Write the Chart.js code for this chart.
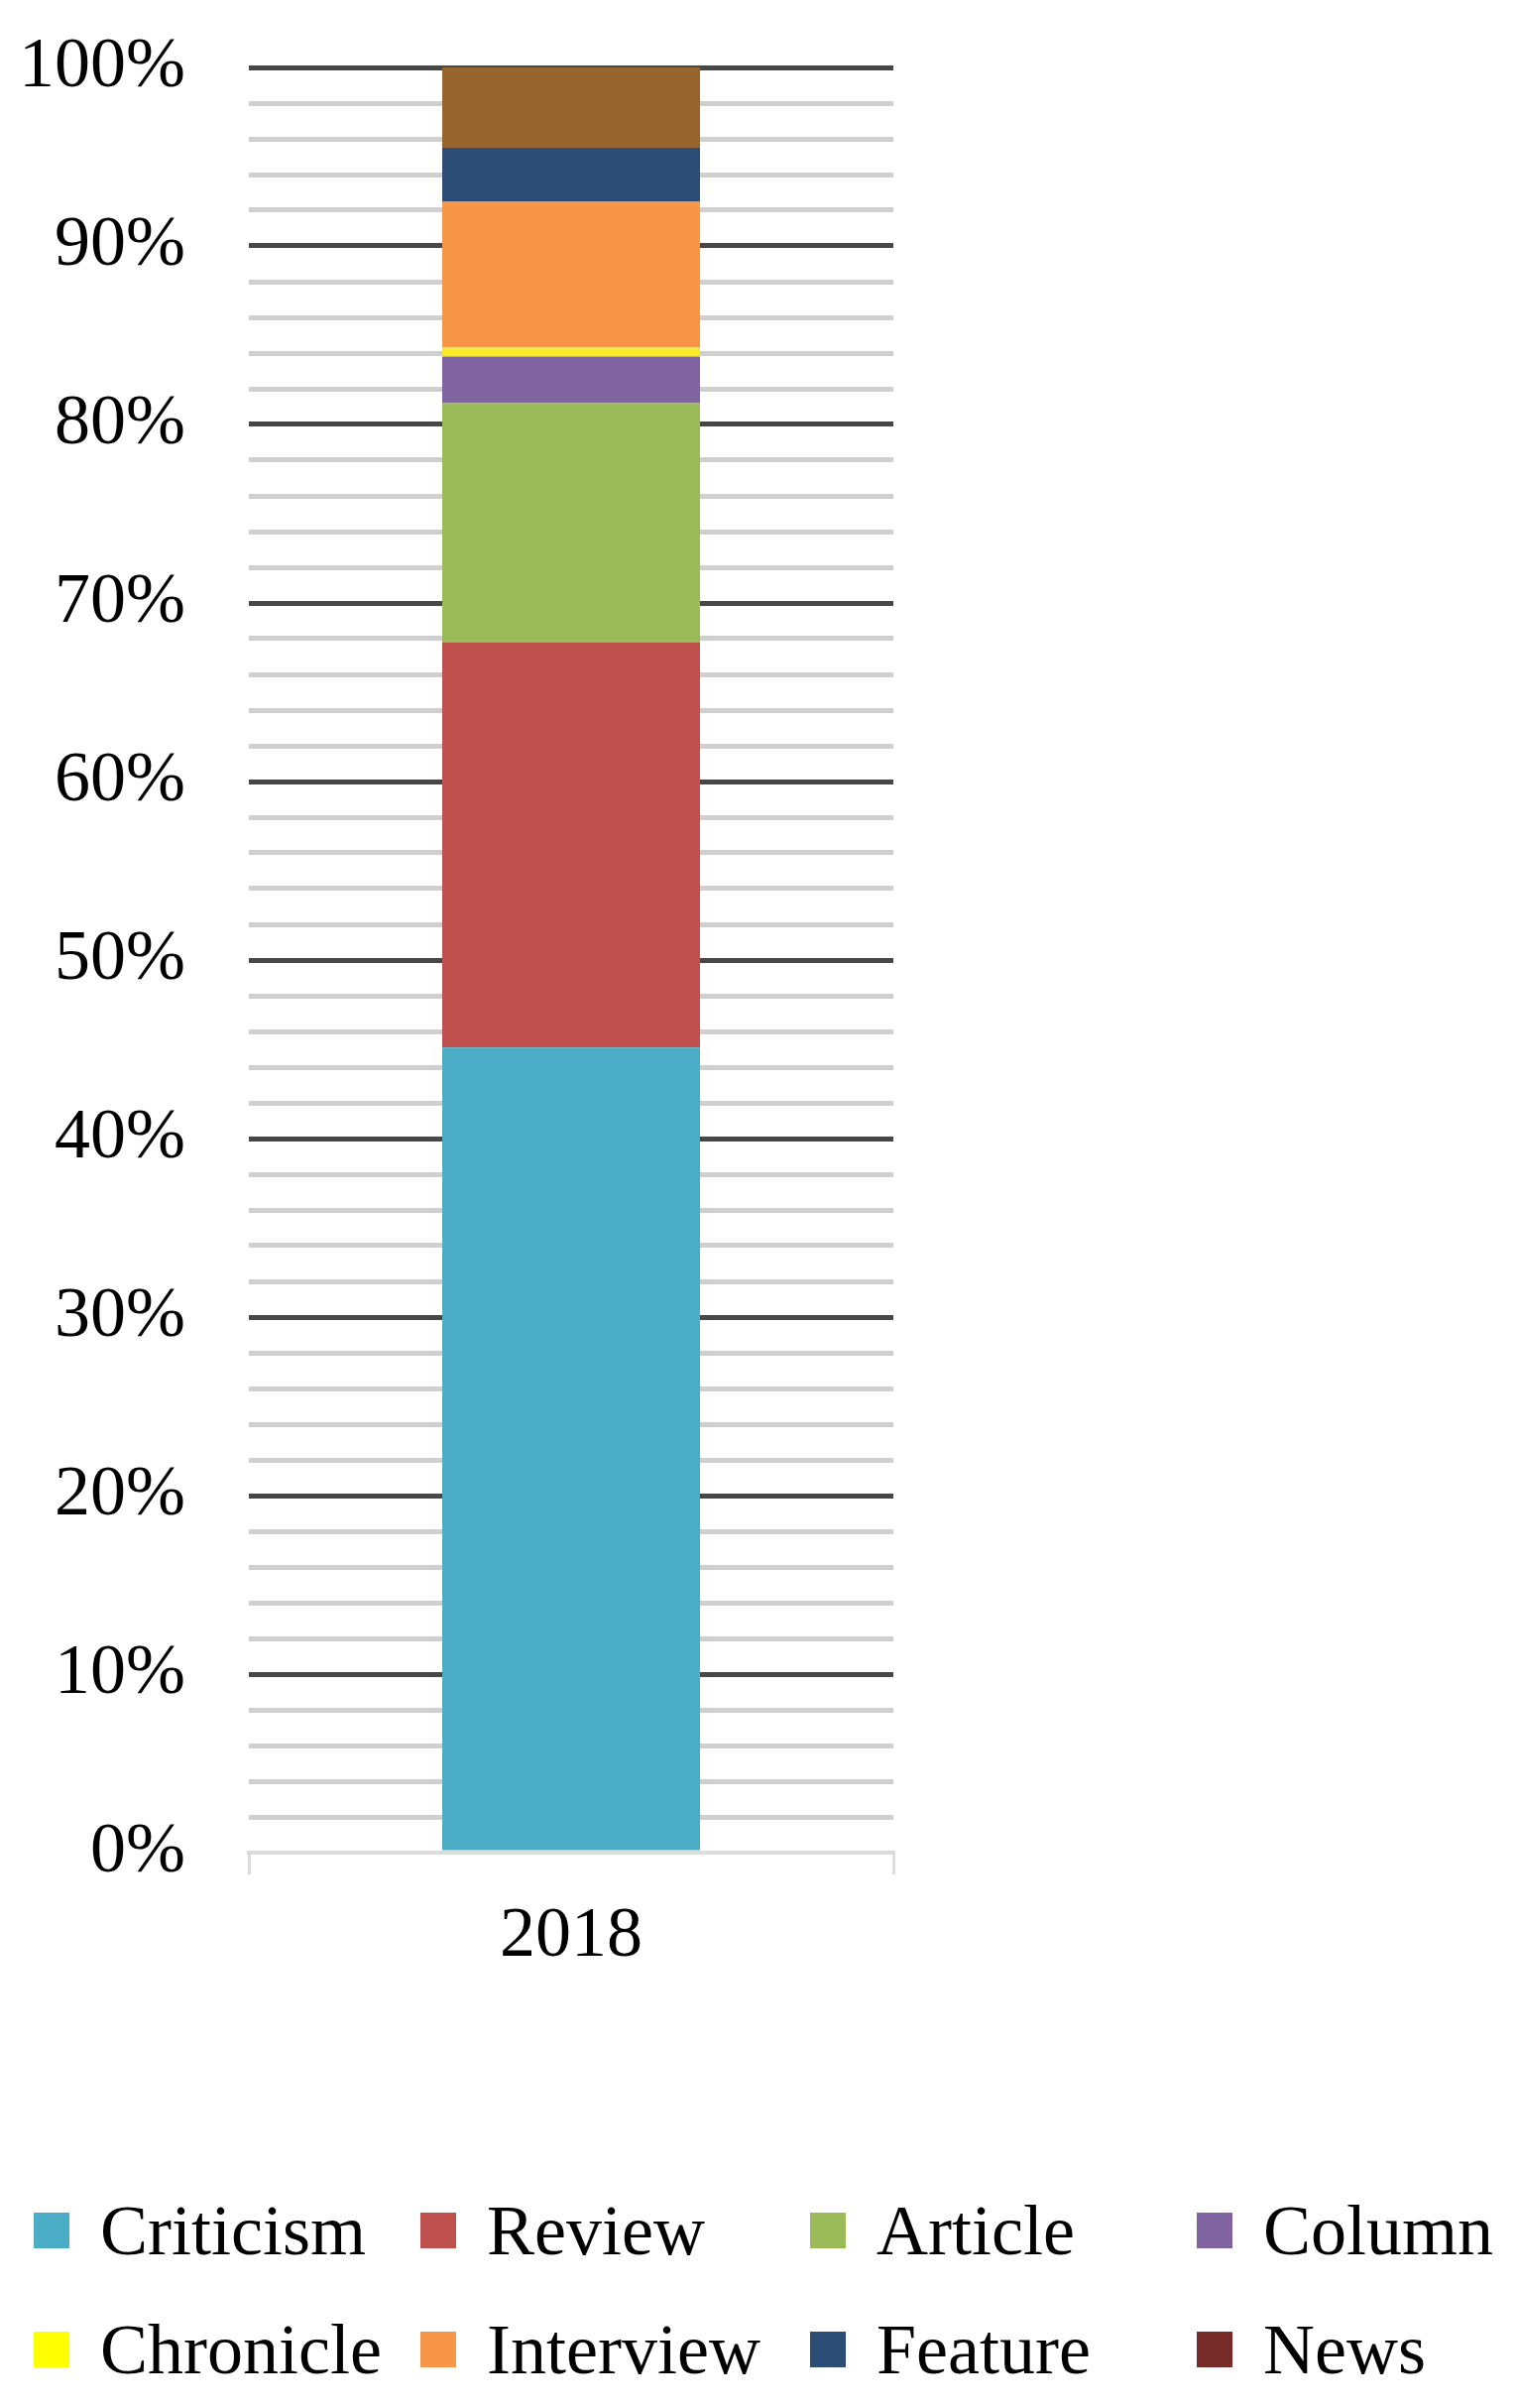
<!DOCTYPE html>
<html>
<head>
<meta charset="utf-8">
<script src="https://cdn.jsdelivr.net/npm/chart.js@4/dist/chart.umd.min.js"></script>
<style>
  body { margin: 0; background: #fff; }
  #wrap { position: relative; width: 1530px; height: 2428px; }
  #legend {
    position: absolute; left: 34px; top: 2189px;
    display: grid; grid-template-columns: 390px 393px 390px 300px;
    font-family: "Liberation Serif", "Times New Roman", serif; font-size: 72px; color: #000;
  }
  #legend .item { display: flex; align-items: center; height: 120px; white-space: nowrap; }
  #legend .box { width: 36px; height: 36px; margin-right: 31px; flex: none; }
</style>
</head>
<body>
<div id="wrap">
  <canvas id="myChart"></canvas>
  <div id="legend"></div>
</div>
<script>
var years = ['2018'];
var seriesNames = ['Criticism', 'Review', 'Article', 'Column', 'Chronicle', 'Interview', 'Feature', 'News'];
var seriesValues = [45.1, 22.7, 13.4, 2.6, 0.5, 8.2, 3.0, 4.5];
var barColors = ['#4bacc6', '#c0504d', '#9bbb59', '#8064a2', '#f8ec2c', '#f79646', '#2c4d75', '#98652f'];
var legendColors = ['#4bacc6', '#c0504d', '#9bbb59', '#8064a2', '#ffff00', '#f79646', '#2c4d75', '#772c2a'];

var datasets = [];
for (var i = 0; i < seriesNames.length; i++) {
    datasets.push({
        label: seriesNames[i],
        data: [seriesValues[i]],
        backgroundColor: barColors[i],
        borderWidth: 0,
        categoryPercentage: 1,
        barPercentage: 0.4
    });
}

var serif = '"Liberation Serif", "Times New Roman", serif';

var ctx = document.getElementById('myChart');
var chart = new Chart(ctx, {
    type: 'bar',
    data: { labels: years, datasets: datasets },
    options: {
        responsive: true,
        maintainAspectRatio: false,
        animation: false,
        layout: { padding: { left: 0, right: 629, top: 68, bottom: 432 } },
        plugins: { legend: { display: false }, tooltip: { enabled: false } },
        scales: {
            x: {
                stacked: true,
                grid: { display: true, drawOnChartArea: false, drawTicks: true, tickLength: 22, color: '#dcdcdc', lineWidth: 3 },
                border: { display: true, color: '#dcdcdc', width: 4 },
                ticks: { font: { family: serif, size: 72 }, color: '#000', padding: 20 },
                afterFit: function (scale) { scale.height = 128; }
            },
            y: {
                stacked: true,
                min: 0,
                max: 100,
                grid: {
                    drawTicks: false,
                    lineWidth: 5,
                    color: function (c) {
                        var v = Math.round(c.tick.value);
                        if (v === 0) return 'rgba(0,0,0,0)';
                        return v % 10 === 0 ? '#474747' : '#cfcfcf';
                    }
                },
                border: { display: false },
                ticks: {
                    stepSize: 2,
                    autoSkip: false,
                    padding: 64,
                    color: '#000',
                    font: { family: serif, size: 72 },
                    callback: function (v) {
                        var r = Math.round(v);
                        return r % 10 === 0 ? r + '%' : '';
                    }
                },
                afterFit: function (scale) {
                    scale.width = 251;
                    scale.paddingTop = 0;
                    scale.paddingBottom = 0;
                }
            }
        }
    }
});

// legend built from the chart's datasets, laid out in fixed columns
var legend = document.getElementById('legend');
chart.data.datasets.forEach(function (ds, i) {
    var item = document.createElement('div');
    item.className = 'item';
    var box = document.createElement('span');
    box.className = 'box';
    box.style.background = legendColors[i];
    item.appendChild(box);
    item.appendChild(document.createTextNode(ds.label));
    legend.appendChild(item);
});
</script>
</body>
</html>
